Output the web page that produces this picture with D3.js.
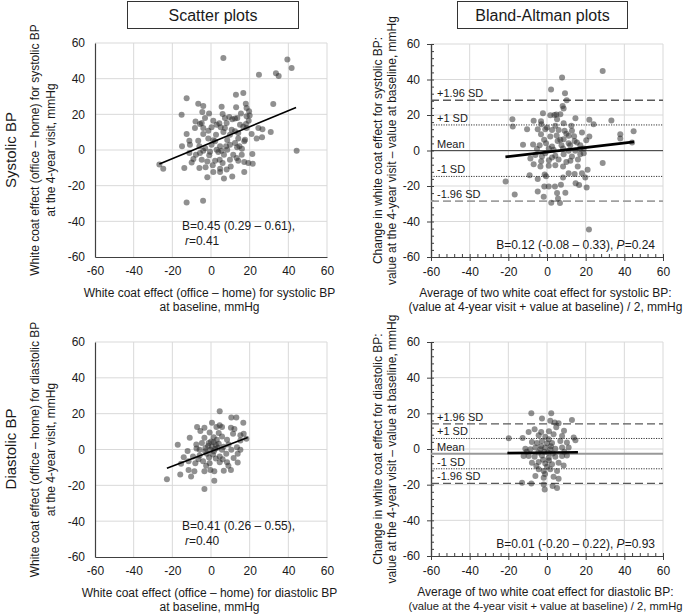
<!DOCTYPE html>
<html><head><meta charset="utf-8">
<script src="https://cdn.jsdelivr.net/npm/d3@7/dist/d3.min.js"></script>
<style>
body{margin:0;background:#fff}
text{font-family:"Liberation Sans",Arial,sans-serif;fill:#1a1a1a}
</style>
</head><body>
<svg id="c" width="685" height="616"></svg>
<script>
// ---------------- DATA ----------------
const axisTicks = [-60, -40, -20, 0, 20, 40, 60];
const minorTicks = d3.range(-60, 61, 4);

const sysScatter = [[6.4,51.6],[39.5,50.7],[41.7,46],[24.8,42.2],[33.6,43],[35,41.5],[-12.6,29],[16.7,32],[12.9,31],[-6.6,26],[-4,24.7],[5.5,24.3],[13,24],[18,26],[18.4,23.6],[32.2,25.8],[-15.2,19.8],[-4.5,21.3],[-3.1,18],[1.2,16.4],[6,20.2],[7.2,18],[11,17.2],[12.4,17.6],[13.6,18],[18.4,18.9],[19.7,21.7],[20,19.4],[19.5,16.4],[18.1,14.6],[-5.7,14.6],[-4.8,15.1],[-8.3,12.3],[-4,12.3],[4.3,15],[5,12.7],[8.1,15.1],[15,14.2],[16.7,13.1],[18.4,12.3],[24.5,12.3],[26.6,11.6],[30.9,10.1],[-12.6,9],[-4,9],[-1.4,10.8],[2.6,8.6],[6.4,10.1],[9.8,8.6],[12.4,10.5],[14.1,9.5],[21,9],[23.6,6.4],[26.4,7.1],[-11.2,5.2],[-6.6,5.2],[-1.4,6.4],[2.1,4.9],[8.4,5.6],[14.1,6.4],[17.2,4.9],[17.6,5.8],[-15,2.1],[-10.9,3],[-6,2.1],[0.3,3],[4.7,2.1],[7.8,2.1],[12.4,3.9],[14.7,2.1],[16,0.7],[44.3,-0.4],[-5.7,-1.7],[-4,-0.4],[-0.9,-3],[3.8,-1.1],[5.5,-0.4],[8.4,0.2],[15.9,-2.6],[21.4,-2.2],[-9.1,-5],[-4.8,-5.4],[-1.9,-6.4],[2.1,-6],[6,-7.3],[14.1,-6],[17.2,-6.7],[19.3,-7.3],[21.6,-7.7],[-26.7,-8.2],[-24.7,-10.5],[-13.8,-10.1],[-6,-10.1],[-2.8,-9.7],[0.9,-8.6],[4.7,-10.5],[8.1,-11],[10.2,-9.2],[17.2,-12.3],[-1.9,-15.3],[6.7,-16],[11,-14.8],[-12.6,-29.5],[-4.1,-28.4],[2.9,14.2],[0.3,12.7],[7.2,12.3],[10.7,11.4],[1.2,5.5],[9.8,3],[13.5,1.5],[-3,1],[2.9,0.2],[-0.5,-1],[6.7,-2.6],[11.5,-2.6],[13.3,-4.5],[-7.8,-2.6],[-11.2,-1.7],[4.5,-5.4],[9.8,-5.4],[1.2,-12.3],[4.7,-12.3],[-8,16],[-1,20.5],[15.5,20.5],[-10,-7],[9.5,18.5]];
const sysScatterFitX = [-26.7, 44];
const sysScatterFitCoef = [0.447, 4.1];   // slope, intercept

const diaScatter = [[4.5,21.3],[10.5,17.8],[13.1,17.8],[16.7,15],[0.5,15],[-7.2,12.5],[-3.4,12.1],[-0.7,9.5],[-5.5,10.3],[4.5,13.6],[2.8,12.5],[5.7,12.5],[4,9.2],[10.3,12.1],[12.1,11.4],[11.4,8.8],[15.2,8],[16.9,8.8],[-11,6.5],[-3.4,6.5],[1.4,6.9],[5.7,7.3],[8.3,5.4],[15.2,5],[18.3,6],[-17.2,2.6],[-7.6,2.8],[-4.7,3.6],[-1.2,3.6],[1.4,4.1],[4,3.2],[9.1,2.8],[13.4,1.3],[-12.1,-0.9],[-5.9,-0.2],[-2.9,0.9],[-0.3,-0.2],[2.2,0.4],[5.7,-0.2],[10.5,-0.2],[15.2,-0.2],[-14.1,-4.3],[-9.3,-3.9],[-5.9,-3.4],[-2.1,-2.4],[1,-2.8],[4.5,-3.9],[7.9,-2.4],[11.7,-4.7],[13.8,-2.4],[-15.5,-8],[-11.6,-6.5],[-8.1,-7.7],[-4.1,-6.5],[-0.7,-7.7],[4.5,-7.1],[8.3,-7.1],[13.8,-7.3],[-11.6,-11.4],[-8.6,-12.1],[-3.4,-12.1],[-0.3,-11.4],[1.7,-12.1],[6.6,-11.8],[10.3,-11.4],[-22.8,-16.6],[-15.9,-14],[-10.3,-15.1],[1.7,-17.4],[-3.4,-22],[-1.5,2],[0.5,1.5],[2.5,2.5],[-3,-1],[1.5,-1],[3.5,1],[-1,-4.5],[2.5,-5],[6.5,1.5],[-6.5,-5.5],[0,4.5],[3,5.5],[-2.5,-9],[6,-5.5],[-7.5,0.5],[9,-9]];
const diaScatterFitX = [-22.8, 19];
const diaScatterFitCoef = [0.41, -1.1];

const sysBA = [[7.8,41.1],[28.8,44.8],[2.1,34.3],[9.3,32.3],[10.2,28.3],[8.1,25.1],[8.6,23.6],[-2.1,21],[1.7,19.9],[3.8,20],[4.8,20.3],[6.9,20.4],[5.2,17.6],[-17.9,17.6],[-17.7,13.5],[-6.9,16.7],[-3.1,16.5],[-2.9,14.8],[8.6,15.4],[14.7,18.2],[21.9,17.3],[24.1,14.8],[33.3,16.9],[-10.3,12],[-4.8,12],[-0.9,12],[0,13],[2.6,11.6],[4.3,13.9],[6,11.6],[9.1,11.1],[12.6,13.9],[12.9,11.1],[18.1,10.1],[37.9,9.2],[37.9,6.8],[44.8,10.9],[-3.1,9.2],[1.7,7.9],[11.2,8.3],[6.9,6],[8.6,6.4],[14.3,5.4],[15.5,4.5],[20.3,5.8],[21.9,7.9],[-12.4,3.2],[-7.2,3.4],[-3.8,3],[-0.5,4.1],[2.6,2.3],[5.5,5.4],[11.2,4.1],[12,3],[17.2,3],[44,4.5],[-5.2,0.8],[0.9,1.1],[3.4,0.4],[8.3,1.1],[11.2,-0.2],[14.6,-0.2],[17.2,0.8],[19,1.1],[-8.6,-4.5],[-6,-2.6],[-2.6,-3.4],[-0.9,-1.5],[2.6,-3.9],[4.3,-3],[8.6,-2.1],[12.9,-3.4],[17.2,-2.1],[19,-1.5],[-6.9,-7.7],[-3.4,-9],[0.9,-8.6],[4.3,-8.3],[8.3,-9],[12.1,-5.8],[15.9,-9],[28.8,-7.1],[21,-10.9],[-9,-13.9],[-4.8,-16.1],[-1.2,-13.5],[-0.5,-14.5],[8.3,-15.2],[11.2,-12.8],[14.3,-13.3],[18.1,-12.8],[19.8,-15.2],[-21.4,-17.4],[-1.4,-20.3],[0.9,-20.3],[4.1,-20.3],[7.2,-19.3],[14.8,-18.4],[16.6,-19.5],[20.5,-20.8],[-16.7,-24.8],[-4.8,-23.1],[-1.7,-26.1],[5.2,-24],[5.7,-27],[9.5,-23.8],[2.2,-29.5],[6.7,-29.6],[21.7,-44.5],[5,8.5],[10,9.5],[14,8],[-1.5,6],[6,-5],[10,-6.5],[1,-5.5],[16,-5],[7.5,3],[-3,-6]];
const sysBAFitX = [-21.5, 45];
const sysBAFitCoef = [0.127, -0.86];
const sysBAMeanSD = [-0.1, 14.5];

const diaBA = [[-8.1,20.1],[2.2,20.1],[-2.6,17.1],[1.7,15.8],[4,14.8],[6,14.4],[12.9,16.3],[4.8,12.2],[-9.5,9.6],[-6.4,11.1],[8.8,10.3],[7.8,7.3],[-19.8,6],[-12.6,6.2],[-4.3,7.7],[-0.9,6.9],[0.9,5.5],[3.4,8.3],[13.8,6.4],[14.7,4.9],[-7.8,3.9],[-5.2,3.4],[-2.6,4.5],[0,3.2],[2.6,3.4],[6.9,4.5],[10.3,3.6],[-11.2,0.2],[-8.6,-0.2],[-6,0.8],[-3.4,-0.2],[-0.9,0.8],[1.7,-0.2],[4.3,0.2],[7.8,0.8],[11.2,0.8],[-12.1,-3.9],[-9.5,-3.9],[-6.4,-4.3],[-2.6,-3.6],[0.9,-4.9],[4.3,-4.3],[7.8,-3.9],[10.3,-3.6],[-7.8,-7.7],[-4.3,-7.3],[-0.9,-8.1],[2.6,-8.6],[6,-7.7],[8.6,-9.2],[-4.3,-11.4],[-1.7,-12.4],[1.7,-11.4],[5.2,-12.4],[-6,-15.2],[-1.7,-16.1],[3.4,-15.6],[6,-16.7],[-12.9,-18.9],[-8.1,-19.3],[-1.7,-19.9],[-1.2,-22.7],[2.9,-20.8],[5.2,-21.8],[-3,1.5],[-1.5,-1.5],[0.5,-2],[2,1.5],[-4.5,-2],[3,-2.5],[-2,-6],[1,-6.5],[-5.5,-9.5],[0,-10],[-3,9.5],[1,10],[-10.5,-1.5],[9,-1.5],[-1,-14]];
const diaBAFitX = [-20.5, 16];
const diaBAFitCoef = [0.01, -2.0];
const diaBAMeanSD = [-2.6, 8.5];

const sdLabels = ["+1.96 SD", "+1 SD", "Mean", "-1 SD", "-1.96 SD"];
const sdMultipliers = [1.96, 1, 0, -1, -1.96];

const headers = ["Scatter plots", "Bland-Altman plots"];
const rowLabels = ["Systolic BP", "Diastolic BP"];

// ---------------- DRAWING ----------------
const svg = d3.select('#c');
const GRID = '#d9d9d9';

// header boxes
const headerBoxes = [{x:127,w:171}, {x:457,w:170}];
headers.forEach((h,i) => {
  const b = headerBoxes[i];
  svg.append('rect').attr('x', b.x+0.5).attr('y', 1.5).attr('width', b.w).attr('height', 27)
    .attr('fill', '#fff').attr('stroke', '#333').attr('stroke-width', 1);
  svg.append('text').attr('x', b.x + b.w/2 + 0.5).attr('y', 15.5).attr('text-anchor','middle')
    .attr('dominant-baseline','central').style('font-size','16px').text(h);
});

// row labels
[150, 449].forEach((cy,i) => {
  svg.append('text').attr('transform', `translate(10,${cy}) rotate(-90)`)
    .attr('text-anchor','middle').attr('dominant-baseline','central')
    .style('font-size','15px').text(rowLabels[i]);
});

const panels = [
  {kind:'scatter', pts: sysScatter, fitX: sysScatterFitX, coef: sysScatterFitCoef,
   left:95, right:327, top:43, bottom:257, ytx:[35,51],
   ytitle:["White coat effect (office – home)  for systolic BP", "at the 4-year visit, mmHg"],
   xtitle:["White coat effect (office – home) for systolic BP", "at baseline, mmHg"],
   stat1:"B=0.45 (0.29 – 0.61),", stat2:"=0.41"},
  {kind:'ba', pts: sysBA, fitX: sysBAFitX, coef: sysBAFitCoef, msd: sysBAMeanSD,
   left:431, right:663, top:44, bottom:257, ytx:[378,392],
   ytitle:["Change in white coat effect for systolic BP:", "value at the 4-year visit –  value at baseline, mmHg"],
   xtitle:["Average of two white coat effect for systolic BP:", "(value at 4-year visit + value at baseline) / 2, mmHg"],
   stat1:"B=0.12 (-0.08 – 0.33), ", stat2:"=0.24",
   lineStyles:[{c:'#595959',w:1.3,d:'8,4'},{c:'#333',w:1,d:'1.2,1.3'},{c:'#333',w:1,d:null},{c:'#333',w:1,d:'1.2,1.3'},{c:'#a0a0a0',w:1.6,d:'8,4'}]},
  {kind:'scatter', pts: diaScatter, fitX: diaScatterFitX, coef: diaScatterFitCoef,
   left:95, right:327, top:342, bottom:557, ytx:[35,51],
   ytitle:["White coat effect (office – home) for diastolic  BP", "at the 4-year visit, mmHg"],
   xtitle:["White coat effect (office – home) for diastolic BP", "at baseline, mmHg"],
   stat1:"B=0.41 (0.26 – 0.55),", stat2:"=0.40"},
  {kind:'ba', pts: diaBA, fitX: diaBAFitX, coef: diaBAFitCoef, msd: diaBAMeanSD,
   left:431, right:663, top:342, bottom:556, ytx:[378,392],
   ytitle:["Change in white coat effect for diastolic BP:", "value at the 4-year visit –  value at baseline, mmHg"],
   xtitle:["Average of two white coat effect for diastolic BP:", "(value at the 4-year visit + value at baseline) / 2, mmHg"],
   stat1:"B=0.01 (-0.20 – 0.22), ", stat2:"=0.93",
   lineStyles:[{c:'#595959',w:1.3,d:'8,4'},{c:'#333',w:1,d:'1.2,1.3'},{c:'#999',w:2,d:null},{c:'#333',w:1,d:'1.2,1.3'},{c:'#595959',w:1.3,d:'8,4'}]}
];

panels.forEach(p => {
  const g = svg.append('g');
  const x = d3.scaleLinear().domain([-60,60]).range([p.left, p.right]);
  const y = d3.scaleLinear().domain([-60,60]).range([p.bottom, p.top]);

  // gridlines
  axisTicks.filter(t => t > -60).forEach(t => {
    g.append('line').attr('x1', x(t)).attr('x2', x(t)).attr('y1', p.top).attr('y2', p.bottom)
      .attr('stroke', GRID).attr('stroke-width', 1);
    g.append('line').attr('x1', p.left).attr('x2', p.right).attr('y1', y(t)).attr('y2', y(t))
      .attr('stroke', GRID).attr('stroke-width', 1);
  });

  // axes
  const fmt = d => String(d);
  if (p.kind === 'scatter') {
    const ax = g.append('g').attr('transform', `translate(0,${p.bottom})`)
      .call(d3.axisBottom(x).tickValues(axisTicks).tickSize(0).tickPadding(9).tickFormat(fmt));
    const ay = g.append('g').attr('transform', `translate(${p.left},0)`)
      .call(d3.axisLeft(y).tickValues(axisTicks).tickSize(0).tickPadding(10).tickFormat(fmt));
    [ax, ay].forEach(a => { a.select('.domain').attr('stroke','#404040').attr('stroke-width',1.2); a.selectAll('text').style('font-size','12px').attr('fill','#1a1a1a'); });
  } else {
    const ax = g.append('g').attr('transform', `translate(0,${p.bottom})`)
      .call(d3.axisBottom(x).tickValues(axisTicks).tickSizeInner(4).tickSizeOuter(0).tickPadding(6).tickFormat(fmt));
    const ay = g.append('g').attr('transform', `translate(${p.left},0)`)
      .call(d3.axisLeft(y).tickValues(axisTicks).tickSizeInner(4).tickSizeOuter(0).tickPadding(7).tickFormat(fmt));
    const mx = g.append('g').attr('transform', `translate(0,${p.bottom})`)
      .call(d3.axisBottom(x).tickValues(minorTicks).tickSizeInner(-3).tickSizeOuter(0).tickFormat(''));
    const my = g.append('g').attr('transform', `translate(${p.left},0)`)
      .call(d3.axisLeft(y).tickValues(minorTicks).tickSizeInner(-3).tickSizeOuter(0).tickFormat(''));
    [ax, ay, mx, my].forEach(a => {
      a.select('.domain').attr('stroke','#404040').attr('stroke-width',1.2);
      a.selectAll('.tick line').attr('stroke','#404040');
      a.selectAll('text').style('font-size','12px').attr('fill','#1a1a1a');
    });

    // mean / SD lines
    sdMultipliers.forEach((m,i) => {
      const v = p.msd[0] + m * p.msd[1];
      const st = p.lineStyles[i];
      const ln = g.append('line').attr('x1', p.left).attr('x2', p.right).attr('y1', y(v)).attr('y2', y(v))
        .attr('stroke', st.c).attr('stroke-width', st.w);
      if (st.d) ln.attr('stroke-dasharray', st.d);
      g.append('text').attr('x', p.left + 6).attr('y', y(v) - 3).style('font-size','11px').text(sdLabels[i]);
    });
  }

  // points
  g.append('g').selectAll('circle').data(p.pts).join('circle')
    .attr('cx', d => x(d[0])).attr('cy', d => y(d[1])).attr('r', 3)
    .attr('fill', '#2b2b2b').attr('fill-opacity', 0.52);

  // regression line
  g.append('line')
    .attr('x1', x(p.fitX[0])).attr('y1', y(p.coef[0]*p.fitX[0] + p.coef[1]))
    .attr('x2', x(p.fitX[1])).attr('y2', y(p.coef[0]*p.fitX[1] + p.coef[1]))
    .attr('stroke', '#000').attr('stroke-width', p.kind === 'ba' ? 2.6 : 1.6);

  // axis titles
  const cx = (p.left + p.right) / 2, cy = (p.top + p.bottom) / 2;
  p.ytitle.forEach((t,i) => {
    svg.append('text').attr('transform', `translate(${p.ytx[i]},${cy}) rotate(-90)`)
      .attr('text-anchor','middle').attr('dominant-baseline','central').style('font-size','12px').text(t);
  });
  p.xtitle.forEach((t,i) => {
    const tx = svg.append('text').attr('x', cx - 1.5).attr('y', p.bottom + 40 + i*14)
      .attr('text-anchor','middle').style('font-size','12px').text(t);
    // keep inside the 685px canvas
    let fs = 12;
    while (fs > 9 && (cx - 1.5) + tx.node().getComputedTextLength()/2 > 683) {
      fs -= 0.2; tx.style('font-size', fs + 'px');
    }
  });

  // stats
  if (p.kind === 'scatter') {
    svg.append('text').attr('x', x(-15)).attr('y', p.bottom - 27).style('font-size','12px').text(p.stat1);
    const t2 = svg.append('text').attr('x', x(-13.5)).attr('y', p.bottom - 12.5).style('font-size','12px');
    t2.append('tspan').style('font-style','italic').text('r');
    t2.append('tspan').text(p.stat2);
  } else {
    const t = svg.append('text').attr('x', p.right - 8).attr('y', p.bottom - 8.5)
      .attr('text-anchor','end').style('font-size','12px');
    t.append('tspan').text(p.stat1);
    t.append('tspan').style('font-style','italic').text('P');
    t.append('tspan').text(p.stat2);
  }
});
</script>
</body></html>
